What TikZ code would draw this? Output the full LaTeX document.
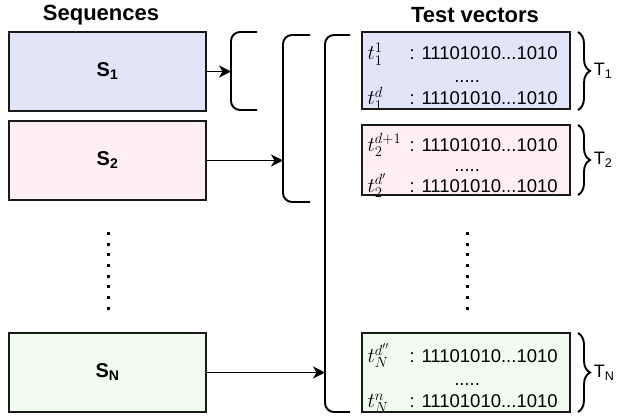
\RequirePackage{fix-cm}
\documentclass[tikz,border=0pt]{standalone}
\usepackage[no-math]{fontspec}
\setmainfont{Liberation Sans}
\usetikzlibrary{positioning,arrows.meta,decorations.pathreplacing}
\definecolor{seqblue}{RGB}{226,228,248}
\definecolor{seqpink}{RGB}{255,239,243}
\definecolor{seqgreen}{RGB}{239,252,238}
\tikzset{
  seqbox/.style={draw=black!90, line width=2.2pt, minimum width=197pt,
                 minimum height=79pt, font=\fontsize{20}{24}\selectfont\bfseries},
  tvbox/.style ={draw=black!90, line width=2.2pt, minimum width=208pt,
                 minimum height=77pt},
  tvtext/.style={align=center, inner sep=0pt, font=\fontsize{18.5}{22.5}\selectfont},
  head/.style  ={font=\fontsize{22}{26}\selectfont\bfseries},
  fl/.style    ={-{Stealth[length=12pt, width=12pt, inset=3.5pt]}, line width=1.9pt},
  brk/.style   ={line width=1.9pt, rounded corners=9pt},
  brc/.style   ={decorate, decoration={brace, amplitude=12pt}, line width=1.9pt},
  tlab/.style  ={font=\fontsize{18}{22}\selectfont, inner sep=1pt},
  vdots/.style ={line width=3pt, dash pattern=on 3pt off 7.7pt},
}
% label column of a test vector row, the bit string after it
\newcommand{\tvrow}[1]{\makebox[42pt][l]{\fontsize{21}{22}\selectfont$#1$}: 11101010...1010}
\newcommand{\tvmid}{\hspace*{9pt}.....}

\begin{document}
\begin{tikzpicture}[x=1pt, y=-1pt]
  \useasboundingbox (0,0) rectangle (625,417);

  \node[head] (seqhd) at (101,15) {Sequences};
  \node[head] (tvhd)  at (475,15) {Test vectors};

  % sequences
  \node[seqbox, fill=seqblue]  (s1) at (107.5,71.5)  {S\textsubscript{1}};
  \node[seqbox, fill=seqpink]  (s2) at (107.5,160.5) {S\textsubscript{2}};
  \node[seqbox, fill=seqgreen] (sn) at (107.5,372.5) {S\textsubscript{N}};
  \draw[vdots] (108,232) -- (108,310);

  % test vector blocks
  \node[tvbox, fill=seqblue] (t1) at (466,70.5) {};
  \node[tvtext] (v1) at ([xshift=-3.4pt, yshift=-6pt]t1.center)
        {\tvrow{t_1^1}\\ \tvmid\\ \tvrow{t_1^d}};
  \node[tvbox, fill=seqpink, minimum height=70pt] (t2) at (466,160) {};
  \node[tvtext, font=\fontsize{18.5}{20.5}\selectfont] (v2)
        at ([xshift=-3.4pt, yshift=-5.5pt]t2.center)
        {\tvrow{t_2^{d+1}}\\ \tvmid\\ \tvrow{t_2^{d'}}};
  \node[tvbox, fill=seqgreen, minimum height=79pt] (tn) at (466,372.5) {};
  \node[tvtext] (vn) at ([xshift=-3.4pt, yshift=-6pt]tn.center)
        {\tvrow{t_N^{d''}}\\ \tvmid\\ \tvrow{t_N^{n}}};
  \draw[vdots] (467,232) -- (467,310);

  % brackets gathering the sequences
  \coordinate (b1) at (231,71.5);
  \coordinate (b2) at (283,160.5);
  \coordinate (b3) at (325,372.5);
  \draw[brk] (257,32) -- (231,32) -- (231,110) -- (257,110);
  \draw[brk] (310,35) -- (283,35) -- (283,202) -- (310,202);
  \draw[brk] (350,35) -- (325,35) -- (325,412) -- (350,412);
  \draw[fl] (s1.east) -- (b1);
  \draw[fl] (s2.east) -- (b2);
  \draw[fl] (sn.east) -- (b3);

  % braces naming each block
  \draw[brc] (578,32) -- (578,110)
        node[midway, right=14pt, tlab] (T1) {T\textsubscript{1}};
  \draw[brc] (578,125) -- (578,195)
        node[midway, right=14pt, tlab] (T2) {T\textsubscript{2}};
  \draw[brc] (578,333) -- (578,412)
        node[midway, right=14pt, tlab] (TN) {T\textsubscript{N}};
\end{tikzpicture}
\end{document}
